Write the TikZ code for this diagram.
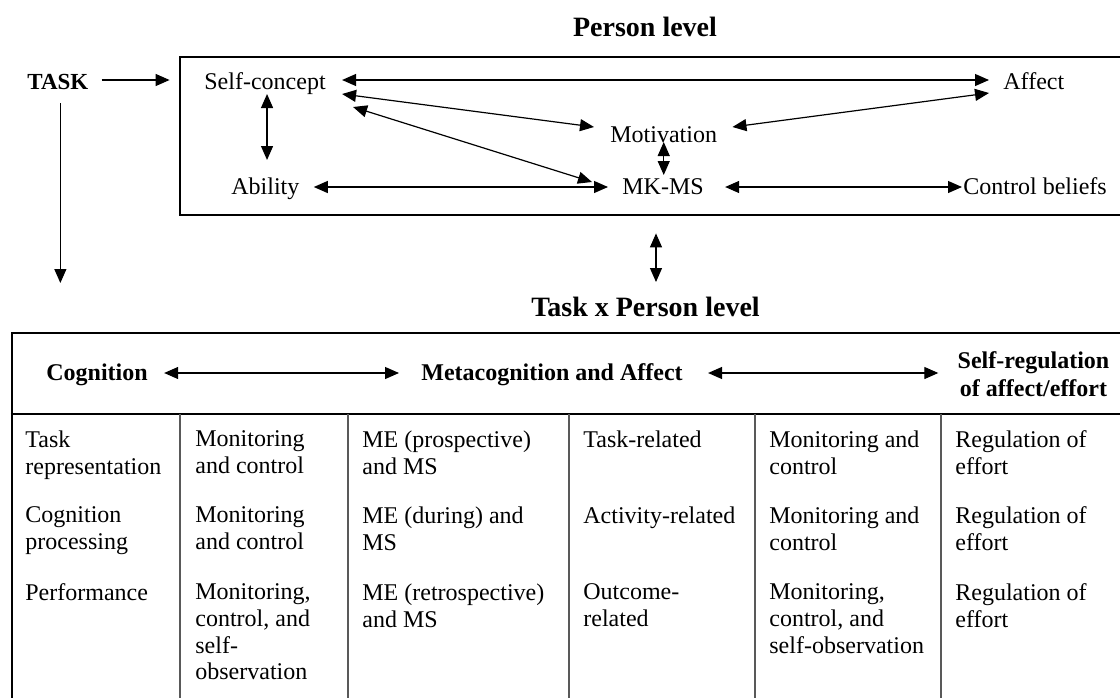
\documentclass[tikz,border=0pt]{standalone}
\usepackage{fontspec}
\setmainfont{Liberation Serif}
\usetikzlibrary{arrows.meta,calc,fit}
\begin{document}
\begin{tikzpicture}[x=0.5pt,y=-0.5pt,
  lbl/.style={inner sep=0pt, anchor=base west, font=\fontsize{12}{13.3}\selectfont},
  ttl/.style={inner sep=0pt, anchor=base, font=\fontsize{14}{16}\selectfont\bfseries},
  hdr/.style={inner sep=0pt, anchor=base west, font=\fontsize{12}{13.3}\selectfont\bfseries},
  cell/.style={inner sep=0pt, anchor=north west, align=left, font=\fontsize{12}{13.3}\selectfont},
  dbl/.style={{Triangle[length=7pt,width=6pt]}-{Triangle[length=7pt,width=6pt]}, line width=0.6pt},
  sgl/.style={-{Triangle[length=7pt,width=6pt]}, line width=0.6pt},
  frame/.style={draw, line width=1.4pt, inner sep=0pt},
  rule/.style={line width=0.9pt, draw=black!65}
]
\useasboundingbox (0,0) rectangle (1120,697);
\clip (0,0) rectangle (1120,697);

% ---------- Person level ----------
\node[ttl] (pl) at (645,36) {Person level};
\node[inner sep=0pt, anchor=base west, font=\fontsize{11.5}{13}\selectfont\bfseries] (task) at (27,89) {TASK};

\coordinate (p1) at (180,57);
\coordinate (p2) at (1135,215);
\node[frame, fit=(p1)(p2)] (pbox) {};

\node[lbl] (sc)  at (204,89)  {Self-concept};
\node[lbl] (aff) at (1003,89) {Affect};
\node[lbl] (mot) at (610,142) {Motivation};
\node[lbl] (ab)  at (231,194) {Ability};
\node[lbl] (mk)  at (622,194) {MK-MS};
\node[lbl] (cb)  at (963,194) {Control beliefs};

\coordinate (taskend) at ($(task.base)+(2.5,194)$);

\draw[sgl] ($(task.base east)+(13,-9)$) -- ($(pbox.west |- task.base)+(-9,-9)$);
\draw[sgl] ($(task.base)+(2.5,14)$) -- (taskend);

\draw[dbl] ($(sc.base east)+(16,-9)$) -- ($(aff.base west)+(-14,-9)$);
\draw[dbl] ($(sc.base east)+(16,5)$) -- ($(mot.base west)+(-16,-15)$);
\draw[dbl] ($(sc.base east)+(27,18)$) -- ($(mk.base west)+(-30,-12)$);
\draw[dbl] ($(sc.base)+(2,5)$) -- ($(sc.base |- ab.base)+(2,-34)$);
\draw[dbl] ($(ab.base east)+(14,-7)$) -- ($(mk.base west)+(-14,-7)$);
\draw[dbl] ($(mot.base east)+(15,-15)$) -- ($(aff.base west)+(-14,4)$);
\draw[dbl] (mot.base) -- ($(mot.base |- mk.base)+(0,-19)$);
\draw[dbl] ($(mk.base east)+(21,-7)$) -- ($(cb.base west)+(-1,-7)$);

% ---------- Task x Person level ----------
\node[ttl] (tp) at (645.5,316) {Task x Person level};
\draw[dbl] ($(pbox.south)+(-1.5,17)$) -- ($(pbox.south |- tp.base)+(-1.5,-34)$);

\coordinate (t1) at (12,333);
\coordinate (t2) at (1135,720);
\node[frame, fit=(t1)(t2)] (tbl) {};
\draw[line width=1.4pt] (tbl.west |- 0,414) coordinate (h1) -- (tbl.east |- 0,414) coordinate (h2);

\node[hdr] (cog)  at (46,380)  {Cognition};
\node[hdr] (meta) at (421,380) {Metacognition and Affect};
\node[inner sep=0pt, anchor=center, align=center, font=\fontsize{12}{14}\selectfont\bfseries] (sr) at (1033.5,374) {Self-regulation\\of affect/effort};

\draw[dbl] ($(cog.base east)+(16,-7)$) -- ($(meta.base west)+(-22,-7)$);
\draw[dbl] ($(meta.base east)+(25,-7)$) -- ($(sr.west |- meta.base)+(-19,-7)$);

% column rules
\foreach \cx in {180,348,569,755,941}
  \draw[rule] (\cx,414) -- (\cx,720);

% cells
\node[cell] (c11) at (25,430.5)  {Task\\representation};
\node[cell] (c21) at (25,506.5)  {Cognition\\processing};
\node[cell] (c31) at (25,583.5)  {Performance};

\node[cell] (c12) at (195,430.5) {Monitoring\\and control};
\node[cell] (c22) at (195,506.5) {Monitoring\\and control};
\node[cell] (c32) at (195,583.5) {Monitoring,\\control, and\\self-\\observation};

\node[cell] (c13) at (362,430.5) {ME (prospective)\\and MS};
\node[cell] (c23) at (362,506.5) {ME (during) and\\MS};
\node[cell] (c33) at (362,583.5) {ME (retrospective)\\and MS};

\node[cell] (c14) at (583,430.5) {Task-related};
\node[cell] (c24) at (583,506.5) {Activity-related};
\node[cell] (c34) at (583,583.5) {Outcome-\\related};

\node[cell] (c15) at (769,430.5) {Monitoring and\\control};
\node[cell] (c25) at (769,506.5) {Monitoring and\\control};
\node[cell] (c35) at (769,583.5) {Monitoring,\\control, and\\self-observation};

\node[cell] (c16) at (955,430.5) {Regulation of\\effort};
\node[cell] (c26) at (955,506.5) {Regulation of\\effort};
\node[cell] (c36) at (955,583.5) {Regulation of\\effort};
\end{tikzpicture}
\end{document}
